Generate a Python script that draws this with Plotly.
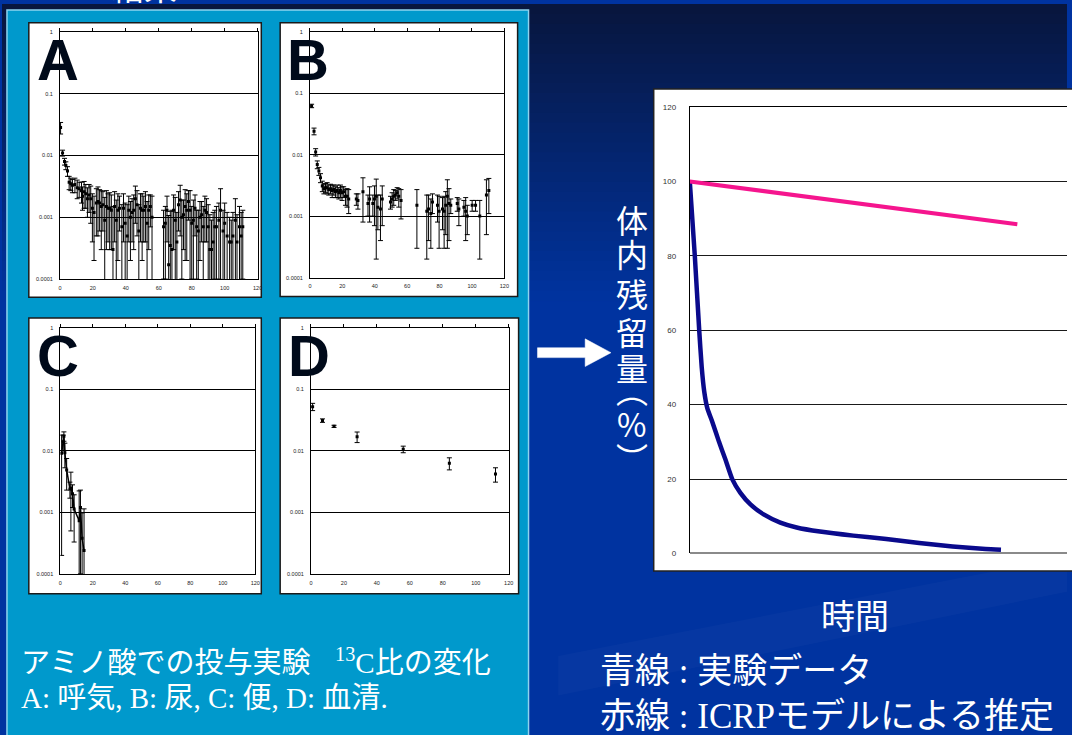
import plotly.graph_objects as go

W, H = 1072, 735
def px(x): return x / W
def py(y): return 1 - y / H

SANS = "Liberation Sans, Arial, sans-serif"
CJK = "Noto Sans CJK JP, sans-serif"

# ---------------- data ----------------
# A: breath (呼気)  13C ratio vs day
A_days = [0.4, 1.6, 2.8, 3.6, 4.6, 5.6, 6.6, 7.6, 9.1, 10.5,
          11.7, 13.1, 13.7, 14.7, 15.7, 16.7, 17.7, 18.7, 19.7, 20.7,
          22.1, 23.1, 24.1, 25.1, 26.1, 27.2, 28.2, 29.2, 30.2, 31.2,
          32.2, 33.2, 34.2, 35.2, 36.2, 37.6, 38.6, 39.6, 40.8, 41.8,
          42.8, 43.8, 44.8, 45.8, 46.8, 47.9, 48.9, 49.9, 50.9, 51.9,
          52.9, 53.9, 54.9, 55.9, 62.9, 64.0, 65.0, 66.0, 67.0, 68.0,
          69.0, 70.0, 71.0, 72.0, 73.0, 74.0, 75.0, 76.0, 77.0, 78.0,
          79.0, 80.0, 81.0, 82.0, 83.0, 84.0, 85.0, 86.0, 87.0, 88.0,
          89.0, 90.0, 91.0, 92.0, 93.0, 94.0, 95.0, 96.5, 97.5, 99.0,
          100.0, 101.5, 103.0, 104.0, 105.0, 106.5, 107.5, 109.0, 110.0, 111.0]
A_ratio = [0.0283, 0.0110, 0.0080, 0.0069, 0.0056, 0.0037, 0.0035, 0.0033, 0.0034, 0.0030,
           0.0029, 0.0027, 0.0022, 0.0026, 0.0024, 0.0020, 0.0023, 0.0020, 0.0014, 0.0012,
           0.0017, 0.0018, 0.0017, 0.0015, 0.0016, 0.0009, 0.0015, 0.0014, 0.0014, 0.0013,
           0.0003, 0.0015, 0.0009, 0.0013, 0.0014, 0.0007, 0.0014, 0.0008, 0.0005, 0.0013,
           0.0010, 0.0012, 0.0013, 0.0020, 0.0016, 0.0006, 0.0014, 0.0013, 0.0013, 0.0015,
           0.0008, 0.0013, 0.0015, 0.0010, 0.0007, 0.0008, 0.0013, 0.00017, 0.00035, 0.0003,
           0.0013, 0.0009, 0.0004, 0.0016, 0.0019, 0.0010, 0.0011, 0.0015, 0.0013, 0.0018,
           0.0013, 0.0008, 0.0009, 0.0014, 0.0007, 0.0006, 0.0010, 0.0011, 0.0007, 0.0013,
           0.0012, 0.0007, 0.0003, 0.0003, 0.0004, 0.0007, 0.0007, 0.0009, 0.0013, 0.0006,
           0.0008, 0.0005, 0.0004, 0.0004, 0.0005, 0.0009, 0.0004, 0.0007, 0.0005, 0.0007]
A_err = [0.0060, 0.0012, 0.0010, 0.0010, 0.0010, 0.0009, 0.0008, 0.0008, 0.0009, 0.0010,
         0.0008, 0.0010, 0.0009, 0.0012, 0.0010, 0.0010, 0.0011, 0.0012, 0.0010, 0.0010,
         0.0012, 0.0013, 0.0011, 0.0012, 0.0010, 0.0012, 0.0012, 0.0010, 0.0011, 0.0010,
         0.0012, 0.0011, 0.0010, 0.0011, 0.0008, 0.0009, 0.0010, 0.0009, 0.0011, 0.0009,
         0.0008, 0.0008, 0.0010, 0.0012, 0.0011, 0.0010, 0.0010, 0.0011, 0.0009, 0.0011,
         0.0010, 0.0010, 0.0008, 0.0012, 0.0006, 0.0007, 0.0009, 0.0009, 0.0009, 0.0010,
         0.0010, 0.0012, 0.0008, 0.0010, 0.0014, 0.0009, 0.0008, 0.0013, 0.0011, 0.0009,
         0.0014, 0.0007, 0.0010, 0.0009, 0.0006, 0.0007, 0.0008, 0.0007, 0.0008, 0.0009,
         0.0008, 0.0009, 0.0008, 0.0006, 0.0008, 0.0006, 0.0008, 0.0008, 0.0016, 0.0007,
         0.0009, 0.0007, 0.0006, 0.0005, 0.0007, 0.0011, 0.0007, 0.0008, 0.0007, 0.0006]

# B: urine (尿)
B_days = [1.0, 2.5, 3.5, 4.5, 5.5, 6.5, 7.6, 8.6,
          9.6, 10.6, 11.6, 12.7, 13.7, 14.7, 15.7, 16.8,
          17.8, 18.8, 19.8, 20.8, 21.9, 22.9, 23.9, 28.6,
          29.6, 32.7, 35.8, 36.8, 38.8, 39.8, 40.9, 41.9,
          43.5, 44.6, 49.7, 50.7, 51.7, 52.7, 53.8, 54.8,
          56.2, 66.0, 72.1, 73.2, 74.6, 75.6, 78.7, 79.7,
          81.8, 82.8, 83.8, 84.8, 85.8, 86.9, 90.9, 91.9,
          95.0, 96.1, 97.1, 100.1, 102.2, 104.8, 108.9, 110.4]
B_ratio = [0.062, 0.024, 0.011, 0.0069, 0.0054, 0.0042, 0.0031, 0.0028,
           0.0029, 0.0029, 0.0027, 0.0028, 0.0026, 0.0027, 0.0025, 0.0026,
           0.0024, 0.0026, 0.0024, 0.0025, 0.0021, 0.0021, 0.0019, 0.0019,
           0.0018, 0.0025, 0.0016, 0.0019, 0.0016, 0.0019, 0.0021, 0.0014,
           0.0013, 0.0019, 0.0017, 0.0019, 0.0021, 0.0022, 0.0024, 0.0021,
           0.0018, 0.0015, 0.0012, 0.0013, 0.0011, 0.0017, 0.0015, 0.0012,
           0.0013, 0.0012, 0.0015, 0.0021, 0.0016, 0.0015, 0.0016, 0.0013,
           0.0014, 0.0012, 0.0010, 0.0015, 0.0015, 0.0010, 0.0022, 0.0026]
B_err = [0.0040, 0.0030, 0.0015, 0.0010, 0.0008, 0.0007, 0.0006, 0.0005,
         0.0005, 0.0006, 0.0005, 0.0005, 0.0006, 0.0005, 0.0005, 0.0006,
         0.0005, 0.0006, 0.0006, 0.0005, 0.0006, 0.0007, 0.0008, 0.0004,
         0.0005, 0.0017, 0.0006, 0.0011, 0.0006, 0.0012, 0.0019, 0.0008,
         0.0009, 0.0012, 0.0004, 0.0005, 0.0006, 0.0004, 0.0005, 0.0007,
         0.0009, 0.0012, 0.0010, 0.0009, 0.0008, 0.0006, 0.0007, 0.0009,
         0.0007, 0.0009, 0.0010, 0.0018, 0.0012, 0.0004, 0.0004, 0.0006,
         0.0004, 0.0008, 0.0005, 0.0003, 0.0003, 0.0008, 0.0017, 0.0015]

# C: feces (便)
C_days = [0.8, 1.8, 2.2, 2.8, 3.9, 5.9, 6.5, 7.5, 8.5, 11.6, 12.4, 13.4, 14.6]
C_ratio = [0.0091, 0.0140, 0.0173, 0.0093, 0.0049, 0.0024, 0.0025, 0.0020,
           0.00113, 0.00073, 0.0012, 0.00038, 0.00024]
C_err = [0.0089, 0.0040, 0.0030, 0.0040, 0.0026, 0.0007, 0.0020, 0.0008,
         0.0008, 0.0015, 0.0011, 0.0006, 0.0009]

# D: serum (血清)
D_days = [1, 7, 14, 28, 56, 84, 112]
D_ratio = [0.052, 0.031, 0.025, 0.0169, 0.0106, 0.0063, 0.0042]
D_err = [0.007, 0.002, 0.001, 0.0033, 0.0013, 0.0014, 0.0011]

# right chart: body retention (%)
blue_time = [0, 1.6, 3.0, 3.8, 4.6, 5.6, 7.2, 9.3, 11.4, 13.5, 16.1, 19.3, 23.5, 28.8,
             34.0, 41.4, 52.0, 62.5, 73.0, 83.6, 94.1, 99.0]
blue_pct = [100, 80, 60, 50, 43.5, 39, 35.3, 30.0, 25.1, 20.0, 16.3, 13.2, 10.5, 8.3,
            7.0, 5.9, 4.8, 3.9, 2.8, 1.9, 1.2, 1.0]
pink_time = [0, 57.2, 104.2]
pink_pct = [100, 93.8, 88.5]

small_xticks = [0, 20, 40, 60, 80, 100, 120]
small_yticks = [1, 0.1, 0.01, 0.001, 0.0001]
small_yticktext = ["1", "0.1", "0.01", "0.001", "0.0001"]
main_yticks = [0, 20, 40, 60, 80, 100, 120]

# ---------------- figure ----------------
fig = go.Figure()

panels = [
    ("A", A_days, A_ratio, A_err, "x", "y", "x6", (58.3, 257.3), (28.3, 278.5), "markers"),
    ("B", B_days, B_ratio, B_err, "x2", "y2", "x7", (310.0, 505.7), (28.0, 277.0), "markers"),
    ("C", C_days, C_ratio, C_err, "x3", "y3", "x8", (58.7, 255.0), (327.7, 577.0), "lines+markers"),
    ("D", D_days, D_ratio, D_err, "x4", "y4", "x9", (311.0, 510.0), (327.7, 577.0), "markers"),
]

layout_axes = {}
for name, xs, ys, es, xa, ya, ta, (x0, x1), (y0, y1), mode in panels:
    fig.add_trace(go.Scatter(
        x=xs, y=ys, mode=mode, xaxis=xa, yaxis=ya,
        marker=dict(symbol="square", size=3, color="black"),
        line=dict(color="black", width=1.5),
        error_y=dict(type="data", array=es, color="black", thickness=1, width=2.5),
        hoverinfo="skip", showlegend=False))
    fig.add_trace(go.Scatter(x=[None], y=[None], xaxis=ta, yaxis=ya,
                             mode="markers", showlegend=False, hoverinfo="skip"))
    xkey = "xaxis" if xa == "x" else "xaxis" + xa[1:]
    ykey = "yaxis" if ya == "y" else "yaxis" + ya[1:]
    tkey = "xaxis" + ta[1:]
    tickf = dict(size=5.5, family=SANS, color="#222")
    layout_axes[xkey] = dict(
        domain=[px(x0), px(x1)], anchor=ya, range=[0, 120], tickvals=small_xticks,
        showline=True, linecolor="black", linewidth=1, mirror=True,
        showgrid=False, zeroline=False, ticks="", tickfont=tickf,
        ticklabelstandoff=3, fixedrange=True)
    layout_axes[tkey] = dict(
        overlaying=xa, anchor=ya, side="top", range=[0, 120], tickvals=small_xticks,
        ticks="outside", ticklen=3, tickcolor="black", tickwidth=1,
        showticklabels=False, showline=False, showgrid=False, zeroline=False)
    layout_axes[ykey] = dict(
        domain=[py(y1), py(y0)], anchor=xa, type="log", range=[-4, 0],
        tickvals=small_yticks, ticktext=small_yticktext,
        showline=True, linecolor="black", linewidth=1, mirror=True,
        showgrid=True, gridcolor="black", gridwidth=1, zeroline=False,
        ticks="", tickfont=tickf, ticklabelstandoff=5, fixedrange=True)

# right chart
fig.add_trace(go.Scatter(x=blue_time, y=blue_pct, mode="lines", xaxis="x5", yaxis="y5",
                         line=dict(color="#0a0a8c", width=4.5, shape="spline", smoothing=0.5),
                         hoverinfo="skip", showlegend=False))
fig.add_trace(go.Scatter(x=pink_time, y=pink_pct, mode="lines", xaxis="x5", yaxis="y5",
                         line=dict(color="#f5158e", width=4), hoverinfo="skip", showlegend=False))
layout_axes["xaxis5"] = dict(domain=[px(692.3), 1.0], anchor="y5", range=[0, 120], side="top",
                             showline=True, linecolor="black", linewidth=1,
                             showticklabels=False, showgrid=False, zeroline=False, ticks="")
layout_axes["yaxis5"] = dict(domain=[py(556.3), py(104.3)], anchor="x5", range=[0, 120],
                             tickvals=main_yticks, showline=True, linecolor="black", linewidth=1,
                             showgrid=True, gridcolor="#1a1a1a", gridwidth=1,
                             zeroline=True, zerolinecolor="#8a8a8a", zerolinewidth=2,
                             ticks="", tickfont=dict(size=8, family=SANS, color="#333"),
                             ticklabelstandoff=11)

# ---------------- decoration shapes ----------------
shapes = []
top_c = (8, 22, 62)
bot_c = (0, 51, 158)
nb = 30
for i in range(nb):
    f = i / (nb - 1)
    c = tuple(int(round(top_c[k] + (bot_c[k] - top_c[k]) * f)) for k in range(3))
    shapes.append(dict(type="rect", xref="paper", yref="paper", x0=0, x1=1,
                       y0=py((i + 1) * 10 + 1), y1=py(i * 10), fillcolor="rgb(%d,%d,%d)" % c,
                       line=dict(width=0), layer="below"))
shapes.append(dict(type="path", xref="paper", yref="paper", layer="below",
                   path="M %f %f L %f %f L %f %f L %f %f Z" % (px(560), py(660), px(1072), py(560),
                                                               px(1072), py(595), px(560), py(700)),
                   fillcolor="rgba(255,255,255,0.025)", line=dict(width=0)))

shapes.append(dict(type="rect", xref="paper", yref="paper", x0=px(5), x1=px(530),
                   y0=py(745), y1=py(6), fillcolor="#0099cc",
                   line=dict(color="#8fd3ee", width=1.5), layer="below"))
for (bx0, by0, bx1, by1) in [(27, 19, 261, 297), (280, 19, 519, 296),
                             (27, 318, 261, 597), (280, 318, 520, 597)]:
    shapes.append(dict(type="rect", xref="paper", yref="paper", x0=px(bx0), x1=px(bx1),
                       y0=py(by1), y1=py(by0), fillcolor="white",
                       line=dict(color="#1a1a1a", width=1.5), layer="below"))
shapes.append(dict(type="rect", xref="paper", yref="paper", x0=px(656), x1=px(1085),
                   y0=py(574), y1=py(86), fillcolor="white",
                   line=dict(color="#222", width=1.5), layer="below"))
arrow_pts = [(539, 348), (587, 348), (587, 339), (613, 353), (587, 367), (587, 358), (539, 358)]
path = "M " + " L ".join("%f %f" % (px(a), py(b)) for a, b in arrow_pts) + " Z"
shapes.append(dict(type="path", xref="paper", yref="paper", path=path,
                   fillcolor="white", line=dict(color="white", width=0.5), layer="above"))

# ---------------- text ----------------
ann = []
def add_text(text, x, y, size, family=CJK, color="white", xanchor="center", yanchor="middle"):
    ann.append(dict(text=text, x=px(x), y=py(y), xref="paper", yref="paper",
                    xanchor=xanchor, yanchor=yanchor, showarrow=False,
                    font=dict(size=size, family=family, color=color)))

for letter, cx, cy in [("A", 56, 56), ("B", 308, 56), ("C", 56, 356), ("D", 309, 356)]:
    add_text("<b>%s</b>" % letter, cx, cy, 58, family=SANS, color="#000a1a")

add_text("結果", 143, -18, 33)

add_text("アミノ酸での投与実験", 17, 664, 29, xanchor="left")
add_text("<span style=\"font-family:Liberation Serif\"><sup>13</sup>C</span>比の変化", 333, 664, 29,
         xanchor="left")
sp = "<span style=\"font-family:Liberation Serif\">%s</span>"
add_text(sp % "A: " + "呼気" + sp % ", B: " + "尿" + sp % ", C: " + "便" + sp % ", D: " + "血清" + sp % ".",
         17, 700, 29, xanchor="left")

for ch, cy in [("体", 217.5), ("内", 252), ("残", 292.5), ("留", 331), ("量", 367), ("%", 424),
               ("︵", 390), ("︶", 459)]:
    add_text(ch, 634, cy, 32)

add_text("時間", 859, 618, 34)
add_text("青線" + sp % " : " + "実験データ", 600, 672, 35, xanchor="left")
add_text("赤線" + sp % " : ICRP" + "モデルによる推定", 600, 717, 35, xanchor="left")

fig.update_layout(
    width=W, height=H, autosize=False,
    margin=dict(l=0, r=0, t=0, b=0, pad=0),
    paper_bgcolor="#0033a0", plot_bgcolor="rgba(0,0,0,0)",
    showlegend=False, shapes=shapes, annotations=ann,
    **layout_axes)

fig.write_html("out.html", config={"displayModeBar": False})
